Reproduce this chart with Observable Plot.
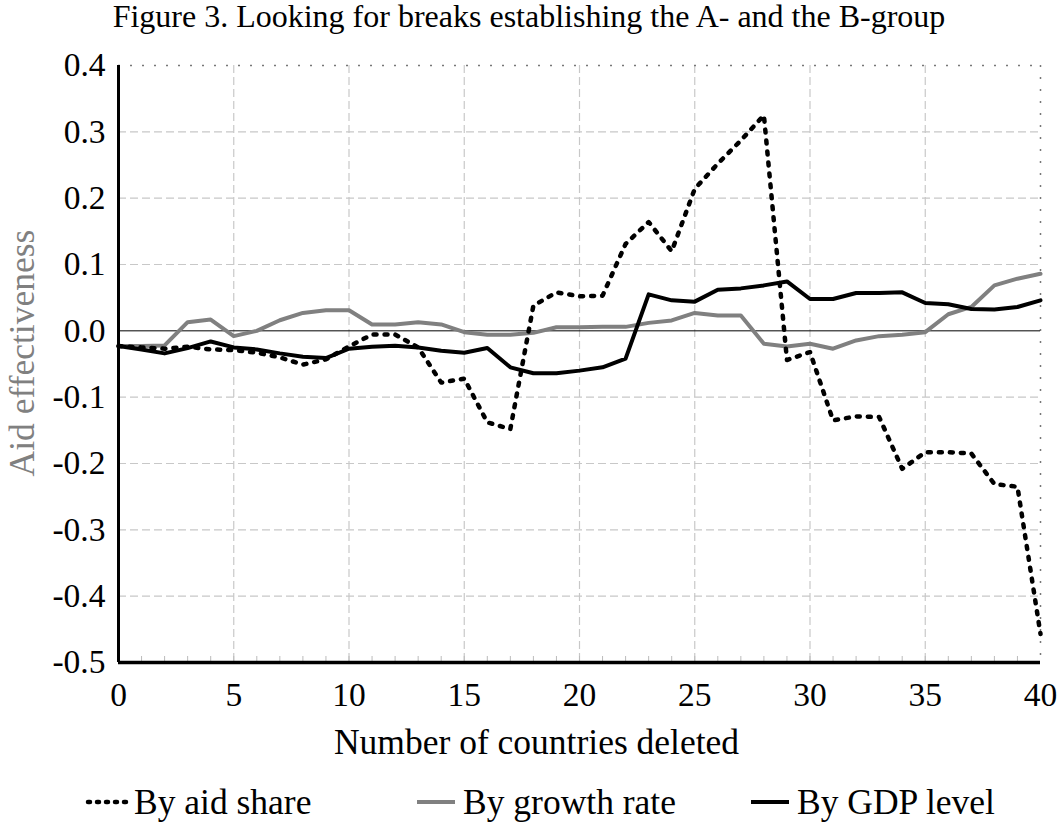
<!DOCTYPE html>
<html>
<head>
<meta charset="utf-8">
<script src="https://cdn.jsdelivr.net/npm/d3@7"></script>
<script src="https://cdn.jsdelivr.net/npm/@observablehq/plot@0.6"></script>
<style>
  html, body { margin: 0; padding: 0; background: #fff; }
  body { width: 1058px; height: 825px; overflow: hidden; font-family: "Liberation Serif", "Times New Roman", serif; color: #000; }
  #title { height: 38px; line-height: 32px; text-align: center; font-size: 32px; white-space: nowrap; font-family: "Liberation Serif", serif; }
  #chart svg, #chart svg text { font-family: "Liberation Serif", "Times New Roman", serif !important; }
  #legend { position: relative; height: 63px; font-size: 35.5px; font-family: "Liberation Serif", serif; }
  .item { position: absolute; top: 0; height: 63px; display: flex; align-items: center; white-space: nowrap; }
  .item svg { margin-right: 5px; }
</style>
</head>
<body>
<div id="title">Figure 3. Looking for breaks establishing the A- and the B-group</div>
<div id="chart"></div>
<div id="legend"></div>
<script>
// ---- data ----
const countriesDeleted = [0,1,2,3,4,5,6,7,8,9,10,11,12,13,14,15,16,17,18,19,20,21,22,23,24,25,26,27,28,29,30,31,32,33,34,35,36,37,38,39,40];

const byAidShare = [-0.023,-0.025,-0.027,-0.024,-0.028,-0.029,-0.033,-0.040,-0.051,-0.043,
                    -0.0235,-0.0055,-0.0055,-0.025,-0.078,-0.072,-0.138,-0.148,0.038,0.058,
                    0.052,0.053,0.131,0.164,0.120,0.214,0.252,0.287,0.325,-0.044,
                    -0.032,-0.135,-0.129,-0.130,-0.208,-0.183,-0.183,-0.185,-0.231,-0.235,-0.457];

const byGrowthRate = [-0.023,-0.023,-0.022,0.013,0.017,-0.008,0.000,0.016,0.027,0.031,
                      0.031,0.0096,0.0096,0.013,0.0096,-0.002,-0.006,-0.006,-0.003,0.0055,
                      0.0055,0.006,0.006,0.012,0.0157,0.027,0.023,0.023,-0.0195,-0.0235,
                      -0.0195,-0.027,-0.0145,-0.008,-0.006,-0.002,0.025,0.036,0.0685,0.0786,0.086];

const byGDPLevel = [-0.023,-0.028,-0.034,-0.026,-0.016,-0.025,-0.028,-0.034,-0.039,-0.041,
                    -0.027,-0.024,-0.0225,-0.025,-0.030,-0.033,-0.026,-0.055,-0.064,-0.064,
                    -0.060,-0.055,-0.042,0.055,0.046,0.044,0.062,0.064,0.0685,0.0745,
                    0.048,0.048,0.057,0.057,0.058,0.042,0.040,0.033,0.032,0.036,0.046];

const seriesNames = ["By aid share", "By growth rate", "By GDP level"];
const xDomain = [0, 40];
const yDomain = [-0.5, 0.4];
const xTicks = [0,5,10,15,20,25,30,35,40];
const yTicks = [-0.5,-0.4,-0.3,-0.2,-0.1,0.0,0.1,0.2,0.3,0.4];
const xGrid = [5,10,15,20,25,30,35];
const yGrid = [-0.4,-0.3,-0.2,-0.1,0.1,0.2,0.3];
const minorTicks = d3.range(1, 40);
const xLabel = "Number of countries deleted";
const yLabel = "Aid effectiveness";

// ---- build tidy rows ----
const rows = [];
[byAidShare, byGrowthRate, byGDPLevel].forEach((vals, s) => {
  vals.forEach((v, i) => rows.push({series: seriesNames[s], x: countriesDeleted[i], y: v}));
});
const rowsOf = name => rows.filter(r => r.series === name);

const styles = {
  "By aid share":   {stroke: "#000", strokeWidth: 4.5, strokeDasharray: "3,8", strokeLinecap: "round"},
  "By growth rate": {stroke: "#808080", strokeWidth: 4},
  "By GDP level":   {stroke: "#000", strokeWidth: 4}
};

const serif = "'Liberation Serif', 'Times New Roman', serif";

const chart = Plot.plot({
  width: 1058,
  height: 724,
  marginTop: 27,
  marginLeft: 118,
  marginRight: 18,
  marginBottom: 100,
  style: {fontFamily: serif, fontSize: "33.5px", color: "#000", background: "#fff"},
  x: {domain: xDomain, ticks: xTicks, tickFormat: d => String(d), tickSize: 0, tickPadding: 20, label: null},
  y: {domain: yDomain, ticks: yTicks, tickFormat: d => d.toFixed(1), tickSize: 0, tickPadding: 13, label: null},
  marks: [
    Plot.ruleX(xGrid, {stroke: "#c8c8c8", strokeWidth: 1.2, strokeDasharray: "8,4"}),
    Plot.ruleY(yGrid, {stroke: "#c8c8c8", strokeWidth: 1.2, strokeDasharray: "8,4"}),
    Plot.ruleY([yDomain[1]], {stroke: "#777", strokeWidth: 1.5, strokeDasharray: "2,10"}),
    Plot.ruleX([xDomain[1]], {stroke: "#777", strokeWidth: 1.5, strokeDasharray: "2,10"}),
    Plot.tickX(minorTicks, {x: d => d, stroke: "#bbb", strokeWidth: 1, insetTop: 591}),
    Plot.ruleY([0], {stroke: "#000", strokeWidth: 1}),
    Plot.line(rowsOf("By growth rate"), {x: "x", y: "y", ...styles["By growth rate"]}),
    Plot.line(rowsOf("By GDP level"), {x: "x", y: "y", ...styles["By GDP level"]}),
    Plot.line(rowsOf("By aid share"), {x: "x", y: "y", ...styles["By aid share"]}),
    Plot.ruleX([xDomain[0]], {stroke: "#000", strokeWidth: 3}),
    Plot.ruleY([yDomain[0]], {stroke: "#000", strokeWidth: 3.5}),
    Plot.text([yLabel], {text: d => d, frameAnchor: "left", rotate: -90, dx: -96, dy: -11, fontSize: 35.5, fontFamily: serif, fill: "#808080", lineAnchor: "middle", textAnchor: "middle"}),
    Plot.text([xLabel], {text: d => d, frameAnchor: "bottom", dx: -43, dy: 80, fontSize: 35.5, fontFamily: serif, fill: "#000", lineAnchor: "middle", textAnchor: "middle"})
  ]
});
document.getElementById("chart").appendChild(chart);

// ---- legend ----
const legendPos = {"By aid share": 85, "By growth rate": 414, "By GDP level": 748};
const legend = document.getElementById("legend");
seriesNames.forEach(name => {
  const st = styles[name];
  const item = document.createElement("div");
  item.className = "item";
  item.style.left = legendPos[name] + "px";
  item.style.top = "8px";
  item.innerHTML = `<svg width="44" height="12"><line x1="3" y1="6" x2="41" y2="6" stroke="${st.stroke}" stroke-width="${st.strokeWidth}" ${st.strokeDasharray ? `stroke-dasharray="2,7" stroke-linecap="round"` : ""}/></svg><span>${name}</span>`;
  legend.appendChild(item);
});
</script>
</body>
</html>
